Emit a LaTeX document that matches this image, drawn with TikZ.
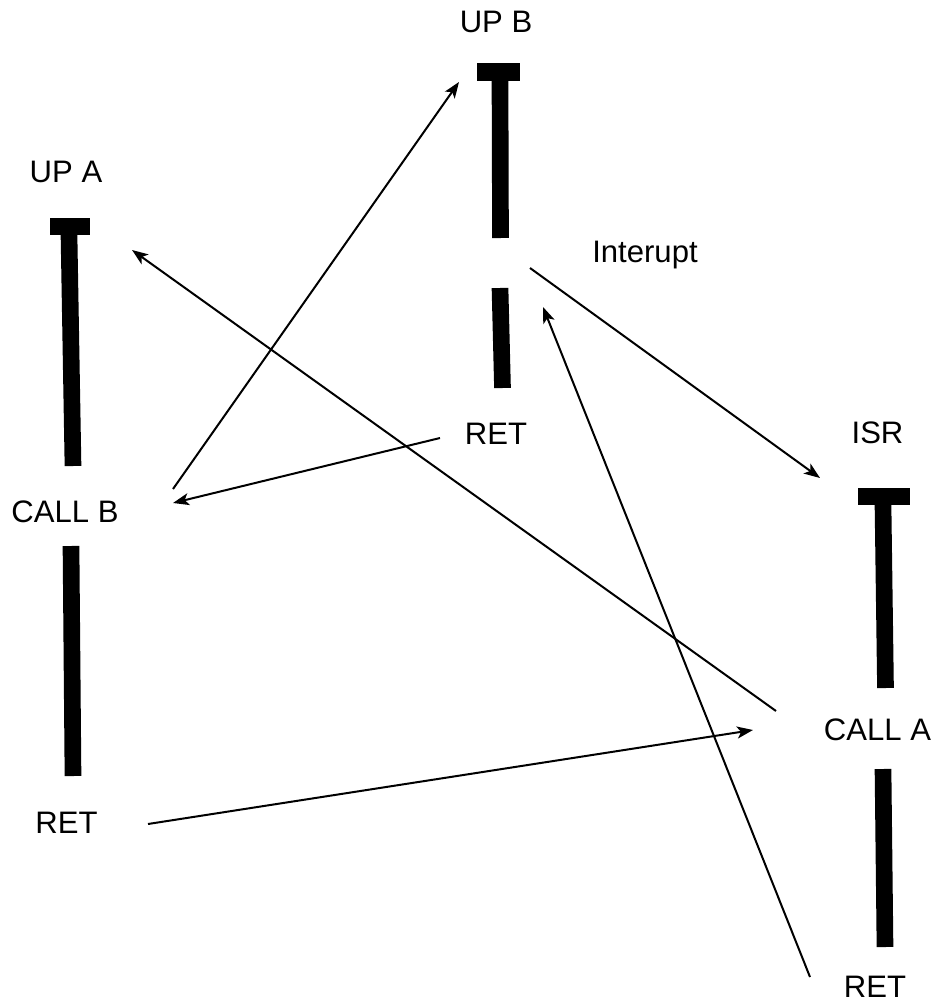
\documentclass[tikz,border=0pt]{standalone}
\usepackage{fontspec}
\setmainfont{Liberation Sans}
\usetikzlibrary{arrows.meta}
\begin{document}
\begin{tikzpicture}[x=0.75pt,y=-0.75pt,
  lbl/.style={anchor=base,inner sep=0pt,font=\fontsize{23.3}{28}\selectfont},
  bar/.style={line width=12.5pt,line cap=butt},
  capbar/.style={fill=black,draw=none},
  flow/.style={line width=1.5pt,-{Stealth[length=12pt,width=9pt,inset=3pt]}}]
\useasboundingbox (0,0) rectangle (933,1002);

% --- routine A ---
\node[lbl] (upA) at (66,182) {UP A};
\fill[capbar] (50,218) rectangle (90,235);
\draw[bar] (69,235) -- (73,466);
\node[lbl] (callB) at (65,522) {CALL B};
\draw[bar] (71,546) -- (73,776);
\node[lbl] (retA) at (66.5,833) {RET};

% --- routine B ---
\node[lbl] (upB) at (496,33) {UP B};
\fill[capbar] (477,63) rectangle (520,81);
\draw[bar] (500,81) -- (500.5,238);
\node[lbl] (intr) at (645,262) {Interupt};
\draw[bar] (500,288) -- (502.5,388);
\node[lbl] (retB) at (496,444) {RET};

% --- interrupt service routine ---
\node[lbl] (isr) at (877.5,443) {ISR};
\fill[capbar] (858,488) rectangle (910,505);
\draw[bar] (883,505) -- (885.5,688);
\node[lbl] (callA) at (877.5,740) {CALL A};
\draw[bar] (883,769) -- (885,947);
\node[lbl] (retI) at (875,997) {RET};

% --- connector end points ---
\coordinate (callBout) at (173,489);
\coordinate (upBin) at (459,82);
\coordinate (callAout) at (776,711);
\coordinate (upAin) at (132,250);
\coordinate (retBout) at (440,438);
\coordinate (callBin) at (173,503);
\coordinate (introut) at (530,268);
\coordinate (isrin) at (820,478);
\coordinate (retAout) at (148,824);
\coordinate (callAin) at (753,730);
\coordinate (retIout) at (810,977);
\coordinate (intrin) at (543,307);

% --- control flow ---
\draw[flow] (callBout) -- (upBin);
\draw[flow] (callAout) -- (upAin);
\draw[flow] (retBout) -- (callBin);
\draw[flow] (introut) -- (isrin);
\draw[flow] (retAout) -- (callAin);
\draw[flow] (retIout) -- (intrin);
\end{tikzpicture}
\end{document}
